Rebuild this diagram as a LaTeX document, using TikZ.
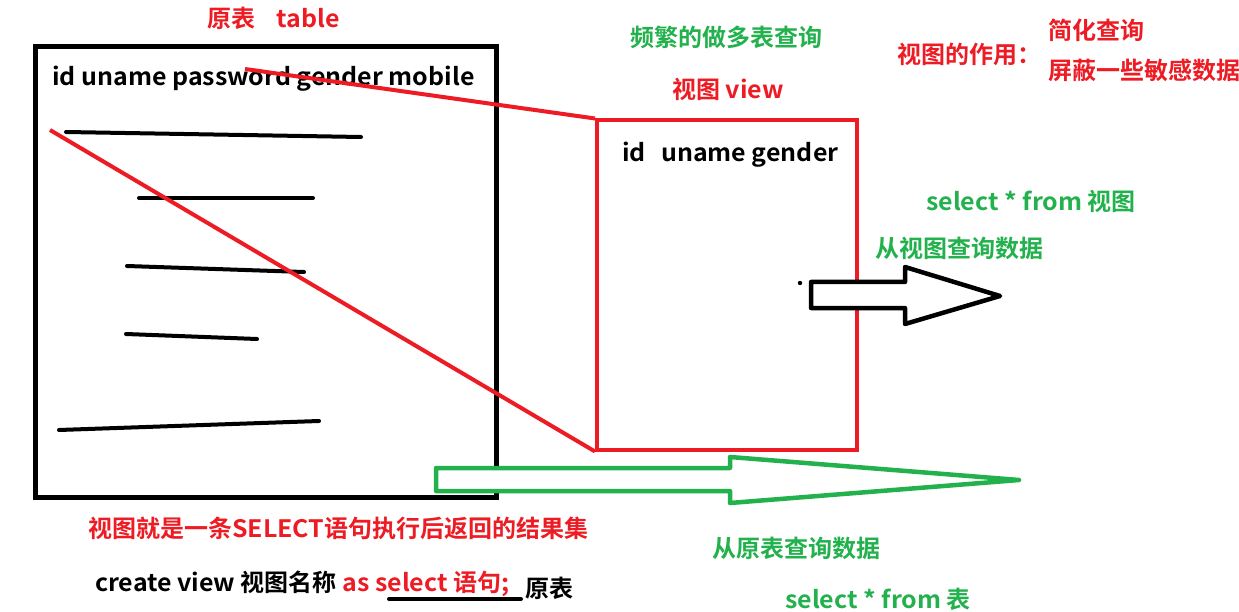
\documentclass[tikz,border=0pt]{standalone}
\usepackage{fontspec}
\setmainfont{Noto Sans CJK SC}[BoldFont={Noto Sans CJK SC Bold}]
\newfontfamily\latf{Noto Sans CJK SC}[BoldFont={Noto Sans CJK SC Bold}, FakeStretch=1.04]
\definecolor{pred}{RGB}{237,28,36}
\definecolor{pgreen}{RGB}{34,177,76}
\tikzset{
  txt/.style={inner sep=0pt, anchor=west, font=\bfseries\fontsize{24}{28}\selectfont},
  redtxt/.style={txt, text=pred},
  greentxt/.style={txt, text=pgreen},
  blacktxt/.style={txt, text=black},
  redline/.style={draw=pred, line width=4pt},
  blackline/.style={draw=black, line width=4pt, line cap=round},
}
\begin{document}
\begin{tikzpicture}[x=1pt,y=-1pt]
\useasboundingbox (0,0) rectangle (1239,612);
% original table box
\draw[line width=5pt] (35,47) rectangle (496,497);
\node[redtxt] (tabt) at (207,18) {原表\hspace{0.9em}{\latf table}};
\node[blacktxt] (cols) at (52,79) {\latf id uname password gender mobile};
% rows
\coordinate (r1a) at (66,132); \coordinate (r1b) at (361,137);
\coordinate (r2a) at (139,198); \coordinate (r2b) at (313,198);
\coordinate (r3a) at (127,266); \coordinate (r3b) at (304,272);
\coordinate (r4a) at (126,334); \coordinate (r4b) at (257,339);
\coordinate (r5a) at (59,430); \coordinate (r5b) at (319,421);
\draw[blackline] (r1a) -- (r1b);
\draw[blackline] (r2a) -- (r2b);
\draw[blackline] (r3a) -- (r3b);
\draw[blackline] (r4a) -- (r4b);
\draw[blackline] (r5a) -- (r5b);
% view box
\node[draw=pred, line width=4pt, minimum width=260pt, minimum height=329pt, inner sep=0pt] (view) at (727,285) {};
\node[blacktxt] (vcols) at (622,155) {\latf id\hspace{0.4em} uname gender};
% red connecting lines
\coordinate (s1) at (245,69);
\coordinate (s2) at (50,130);
\draw[redline] (s1) -- (view.north west);
\draw[redline] (s2) -- (view.south west);
% top texts
\node[greentxt] (freq) at (630,37) {频繁的做多表查询};
\node[redtxt] (vt) at (672,89) {视图 {\latf view}};
\node[redtxt] (role) at (897,54) {视图的作用：};
\node[redtxt] (r1) at (1048,30) {简化查询};
\node[redtxt] (r2) at (1048,70) {屏蔽一些敏感数据};
\node[greentxt] (selv) at (926,201) {{\latf select * from} 视图};
\node[greentxt] (fromv) at (875,248) {从视图查询数据};
% black arrow
\fill (800,283) circle (2.2pt);
\draw[line width=4.5pt, fill=white, line join=round]
  (811,282) -- (905,282) -- (905,267) -- (1000,296) -- (905,324) -- (905,308) -- (811,308) -- cycle;
% green arrow
\draw[draw=pgreen, line width=4.5pt, fill=white, line join=round]
  (436,468) -- (730,468) -- (730,457) -- (1019,480) -- (730,503) -- (730,491) -- (436,491) -- cycle;
% bottom texts
\node[redtxt] (def) at (88,528) {视图就是一条{\latf SELECT}语句执行后返回的结果集};
\node[blacktxt] (cr) at (95,584) {{\latf create view} 视图名称 \textcolor{pred}{{\latf as select} 语句{\latf ;}}};
\coordinate (ula) at (389,599); \coordinate (ulb) at (521,599);
\draw[blackline] (ula) -- (ulb);
\node[blacktxt] (yb) at (525,588) {原表};
\node[greentxt] (fromt) at (712,548) {从原表查询数据};
\node[greentxt] (selt) at (785,599) {{\latf select * from} 表};
\end{tikzpicture}
\end{document}
